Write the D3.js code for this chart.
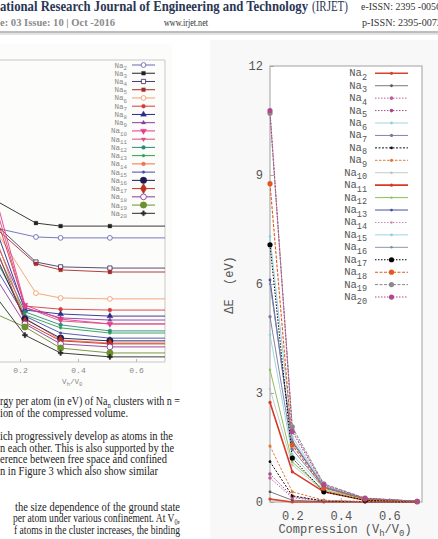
<!DOCTYPE html>
<html><head><meta charset="utf-8">
<script src="https://cdn.jsdelivr.net/npm/d3@7"></script>
<style>html,body{margin:0;padding:0;background:#fff;overflow:hidden}svg{display:block}</style>
</head><body>
<svg id="c" width="438" height="539"></svg>
<script>
// ---------------- data ----------------
const clusterSizes = [2,3,4,5,6,7,8,9,10,11,12,13,14,15,16,17,18,19,20];
// left figure: binding energy per atom (eV) vs Vh/V0
const leftXUpper = [0.1, 0.255, 0.34, 0.51, 0.75];   // Na2..Na6
const leftXLower = [0.1, 0.217, 0.34, 0.51, 0.75];   // Na7..Na20
const bindingEnergy = [
  [0.647, 0.614, 0.611, 0.611, 0.611],
  [0.743, 0.660, 0.650, 0.650, 0.650],
  [0.670, 0.531, 0.515, 0.511, 0.511],
  [0.657, 0.525, 0.505, 0.498, 0.498],
  [0.660, 0.428, 0.412, 0.409, 0.409],
  [0.736, 0.385, 0.375, 0.372, 0.372],
  [0.687, 0.372, 0.359, 0.352, 0.352],
  [0.637, 0.379, 0.346, 0.339, 0.339],
  [0.803, 0.389, 0.342, 0.326, 0.326],
  [0.770, 0.382, 0.336, 0.326, 0.326],
  [0.604, 0.366, 0.323, 0.303, 0.303],
  [0.571, 0.356, 0.313, 0.296, 0.296],
  [0.654, 0.346, 0.273, 0.263, 0.263],
  [0.538, 0.352, 0.296, 0.279, 0.279],
  [0.587, 0.342, 0.279, 0.270, 0.270],
  [0.621, 0.332, 0.270, 0.260, 0.260],
  [0.505, 0.326, 0.260, 0.250, 0.250],
  [0.366, 0.316, 0.246, 0.230, 0.230],
  [0.438, 0.289, 0.230, 0.217, 0.217]
];
const leftTicks = [0.2, 0.4, 0.6];
// right figure: ΔE (eV) vs compression
const compression = [0.108, 0.2, 0.33, 0.5, 0.715];
const deltaE = [
  [0.08, 0.0, 0.0, 0.0, 0.0],
  [0.28, 0.05, 0.01, 0.0, 0.0],
  [0.66, 0.12, 0.02, 0.0, 0.0],
  [0.77, 0.15, 0.03, 0.01, 0.0],
  [4.6, 1.3, 0.38, 0.08, 0.02],
  [5.1, 1.45, 0.4, 0.08, 0.02],
  [1.11, 0.17, 0.03, 0.01, 0.0],
  [1.54, 0.28, 0.05, 0.01, 0.0],
  [3.11, 1.02, 0.3, 0.05, 0.01],
  [2.74, 0.83, 0.28, 0.05, 0.01],
  [3.64, 1.1, 0.33, 0.06, 0.01],
  [6.11, 1.65, 0.42, 0.09, 0.02],
  [10.66, 2.0, 0.48, 0.1, 0.02],
  [7.31, 1.8, 0.44, 0.1, 0.02],
  [6.0, 1.7, 0.42, 0.09, 0.02],
  [7.08, 1.21, 0.28, 0.05, 0.01],
  [8.76, 1.57, 0.38, 0.08, 0.02],
  [10.7, 2.07, 0.5, 0.11, 0.02],
  [10.77, 1.94, 0.47, 0.1, 0.02]
];
const rightYTicks = [0, 3, 6, 9, 12];
const rightXTicks = [0.2, 0.4, 0.6];

// ---------------- styles ----------------
const leftColors = ["#6a6ab8","#222222","#4a3a6a","#a52a2a","#f0a070","#d83a3a","#2a2a8a","#8a3aa0","#e8388a","#d84a8a","#2a8a7a","#2aa050","#f07050","#4a4ab0","#1a1a50","#c03020","#8a3a9a","#6a9030","#2a2a2a"];
const leftSym = ["circleO","square","squareO","square","circleO","circle","triangle","triangleS","triangleD","triangleDS","circle","dot","circle","dot","circleB","diamondB","circleOB","circleB","plus"];
const rightColors = ["#d8432c","#555555","#c0609a","#a34d86","#96d0d8","#76769e","#111111","#e07a3a","#bdbdbd","#d53a26","#8cbf5a","#4c4ca0","#d088b0","#8fd0dc","#7a8aa0","#000000","#e05a20","#8a8a8a","#b04a8c"];
const rightDash = ["", "", "1.5,1.5", "1.5,1.5", "", "", "2,1.5", "2.5,1.5", "", "", "", "", "1.5,1.5", "", "", "1.5,1.5", "3,1.5", "3,1.5", "1.5,1.5"];
const rightWidth = [1.6,0.8,1,1,0.9,0.9,1,1,0.8,1.6,1,1,1,0.9,0.9,1,1.1,1,1.1];
const rightR = [1.6,1.4,1.8,1.8,1.4,1.6,1.4,1.6,1.2,1.6,1.2,1.4,1.2,1.4,1.2,2.6,2.6,2.6,2.6];

const svg = d3.select("#c");
const serif = "'Liberation Serif','Times New Roman',serif";
const mono = "'Liberation Mono','Courier New',monospace";

// backgrounds
svg.append("rect").attr("x",0).attr("y",0).attr("width",438).attr("height",539).attr("fill","#fff");
svg.append("rect").attr("x",210).attr("y",40).attr("width",228).attr("height",499).attr("fill","#f8f8f8");
svg.append("rect").attr("x",0).attr("y",44).attr("width",172).attr("height",348).attr("fill","#fcfcfa");

// ---------------- header ----------------
svg.append("text").attr("x",0).attr("y",10.5).attr("font-family",serif).attr("font-weight","bold")
  .attr("font-size",14).attr("fill","#2b3655").attr("textLength",308).attr("lengthAdjust","spacingAndGlyphs")
  .text("ational Research Journal of Engineering and Technology");
svg.append("text").attr("x",312).attr("y",10.5).attr("font-family",serif).attr("font-size",14)
  .attr("fill","#2b3655").attr("textLength",36).attr("lengthAdjust","spacingAndGlyphs").text("(IRJET)");
svg.append("text").attr("x",361).attr("y",10).attr("font-family",serif).attr("font-size",11)
  .attr("fill","#333").attr("textLength",80).attr("lengthAdjust","spacingAndGlyphs").text("e-ISSN: 2395 -0056");
svg.append("text").attr("x",0).attr("y",26).attr("font-family",serif).attr("font-weight","bold").attr("font-size",11)
  .attr("fill","#8a8a8a").attr("textLength",115).attr("lengthAdjust","spacingAndGlyphs").text("e: 03 Issue: 10 | Oct -2016");
svg.append("text").attr("x",164).attr("y",26).attr("font-family",serif).attr("font-size",11)
  .attr("fill","#333").attr("textLength",44).attr("lengthAdjust","spacingAndGlyphs").text("www.irjet.net");
svg.append("text").attr("x",362).attr("y",26).attr("font-family",serif).attr("font-size",11)
  .attr("fill","#333").attr("textLength",80).attr("lengthAdjust","spacingAndGlyphs").text("p-ISSN: 2395-0072");
svg.append("rect").attr("x",0).attr("y",31).attr("width",438).attr("height",2.5).attr("fill","#bdbdbd");
svg.append("rect").attr("x",0).attr("y",33.5).attr("width",438).attr("height",1.5).attr("fill","#e4e4e4");

// ---------------- left chart ----------------
const L = {left:-38, right:165, top:60, bottom:362};
const xL = d3.scaleLinear().domain([0,0.7]).range([L.left, L.right]);
const yL = d3.scaleLinear().domain([0.2,1.2]).range([L.bottom, L.top]);
svg.append("clipPath").attr("id","clipL").append("rect").attr("x",0).attr("y",L.top).attr("width",L.right).attr("height",L.bottom-L.top);
const gL = svg.append("g");
gL.append("path").attr("d",`M0,${L.top}H${L.right}V${L.bottom}H0`).attr("fill","none").attr("stroke","#c8c8c8").attr("stroke-width",1);
const axL = gL.append("g").attr("transform",`translate(0,${L.bottom})`)
  .call(d3.axisBottom(xL).tickValues(leftTicks).tickFormat(d3.format(".1f")).tickSize(-3).tickPadding(5));
axL.select(".domain").remove();
axL.selectAll("line").attr("stroke","#bbb");
axL.selectAll("text").attr("font-family",mono).attr("font-size",8).attr("fill","#888");
const vl = gL.append("text").attr("x",xL(0.38)).attr("y",384).attr("text-anchor","middle").attr("font-family",mono).attr("font-size",7.5).attr("fill","#888");
vl.append("tspan").text("V");
vl.append("tspan").attr("font-size",5.5).attr("dy",1.5).text("h");
vl.append("tspan").attr("dy",-1.5).text("/V");
vl.append("tspan").attr("font-size",5.5).attr("dy",1.5).text("0");

function sym(type){
  const m = {circleO:[d3.symbolCircle,18,false],square:[d3.symbolSquare,14,true],squareO:[d3.symbolSquare,18,false],
    circle:[d3.symbolCircle,12,true],triangle:[d3.symbolTriangle,16,true],triangleS:[d3.symbolTriangle,8,true],
    triangleD:[d3.symbolTriangle,16,true],triangleDS:[d3.symbolTriangle,8,true],dot:[d3.symbolCircle,6,true],
    circleB:[d3.symbolCircle,34,true],diamondB:[d3.symbolDiamond,34,true],circleOB:[d3.symbolCircle,26,false],plus:[d3.symbolCross,14,true]};
  return m[type];
}
const lineL = d3.line().x(d=>xL(d[0])).y(d=>yL(d[1]));
const plotL = gL.append("g").attr("clip-path","url(#clipL)");
bindingEnergy.forEach((vals,i)=>{
  const xs = i < 5 ? leftXUpper : leftXLower;
  const pts = vals.map((v,j)=>[xs[j],v]);
  plotL.append("path").attr("d",lineL(pts)).attr("fill","none").attr("stroke",leftColors[i]).attr("stroke-width",0.9);
});
function drawSym(g, type, color, x, y){
  const [s,size,fill] = sym(type);
  const rot = type.startsWith("triangleD") ? 180 : 0;
  g.append("path").attr("d",d3.symbol().type(s).size(size)())
    .attr("transform",`translate(${x},${y}) rotate(${rot})`)
    .attr("fill",fill?color:"#fff").attr("stroke",color).attr("stroke-width",fill?0.3:0.9);
}
bindingEnergy.forEach((vals,i)=>{
  const xs = i < 5 ? leftXUpper : leftXLower;
  vals.forEach((v,j)=>drawSym(plotL,leftSym[i],leftColors[i],xL(xs[j]),yL(v)));
});
// left legend
clusterSizes.forEach((n,i)=>{
  const y = 65 + i*8.24;
  const t = gL.append("text").attr("x",127).attr("y",y+2.5).attr("text-anchor","end").attr("font-family",mono).attr("font-size",7.5).attr("fill","#888");
  t.append("tspan").text("Na");
  t.append("tspan").attr("font-size",5.8).attr("dy",2.2).text(n);
  gL.append("line").attr("x1",132).attr("x2",155).attr("y1",y).attr("y2",y).attr("stroke",leftColors[i]).attr("stroke-width",1);
  drawSym(gL,leftSym[i],leftColors[i],143.5,y);
});

// ---------------- caption / body text ----------------
function para(x,y,w,parts){
  const t = svg.append("text").attr("x",x).attr("y",y).attr("font-family",serif).attr("font-size",11.5).attr("fill","#222")
    .attr("textLength",w).attr("lengthAdjust","spacingAndGlyphs");
  parts.forEach(p=>{
    const s = t.append("tspan").text(p.t);
    if (p.sub) s.attr("font-size",7.5).attr("dy",2.5);
    if (p.up) s.attr("dy",-2.5);
  });
}
para(0,405,180,[{t:"rgy per atom (in eV) of Na"},{t:"n",sub:true},{t:" clusters with n =",up:true}]);
para(0,416.5,128,[{t:"ion of the compressed volume."}]);
para(0,440,173,[{t:"ich progressively develop as atoms in the"}]);
para(0,451.5,174,[{t:"n each other. This is also supported by the"}]);
para(0,463,167,[{t:"erence between free space and confined"}]);
para(0,474.5,158,[{t:"n in Figure 3 which also show similar"}]);
para(15,510.5,165,[{t:"the size dependence of the ground state"}]);
para(13,522,167,[{t:"per atom under various confinement. At V"},{t:"0",sub:true},{t:",",up:true}]);
para(14,533.5,166,[{t:"f atoms in the cluster increases, the binding"}]);

// ---------------- right chart ----------------
const R = {left:270, right:422, top:66, bottom:502};
const xR = d3.scaleLinear().domain([0.108,0.735]).range([R.left,R.right]);
const yR = d3.scaleLinear().domain([0,12]).range([R.bottom,R.top]);
const gR = svg.append("g");
gR.append("rect").attr("x",R.left).attr("y",R.top).attr("width",R.right-R.left).attr("height",R.bottom-R.top).attr("fill","#fff");
const ayR = gR.append("g").attr("transform",`translate(${R.left},0)`)
  .call(d3.axisLeft(yR).tickValues(rightYTicks).tickSize(-4).tickPadding(7));
ayR.select(".domain").remove();
ayR.selectAll("line").attr("stroke","#aaa");
ayR.selectAll("text").attr("font-family",mono).attr("font-size",12).attr("fill","#555");
const axR = gR.append("g").attr("transform",`translate(0,${R.bottom})`)
  .call(d3.axisBottom(xR).tickValues(rightXTicks).tickFormat(d3.format(".1f")).tickSize(-4).tickPadding(9));
axR.select(".domain").remove();
axR.selectAll("line").attr("stroke","#aaa");
axR.selectAll("text").attr("font-family",mono).attr("font-size",12).attr("fill","#555");
gR.append("rect").attr("x",R.left).attr("y",R.top).attr("width",R.right-R.left).attr("height",R.bottom-R.top)
  .attr("fill","none").attr("stroke","#a0a0a0").attr("stroke-width",1);
// axis titles
const xt = gR.append("text").attr("x",345).attr("y",533).attr("text-anchor","middle").attr("font-family",mono).attr("font-size",12).attr("fill","#555");
xt.append("tspan").text("Compression (V");
xt.append("tspan").attr("font-size",9).attr("dy",2.5).text("h");
xt.append("tspan").attr("dy",-2.5).text("/V");
xt.append("tspan").attr("font-size",9).attr("dy",2.5).text("0");
xt.append("tspan").attr("dy",-2.5).text(")");
gR.append("text").attr("transform","translate(233,285) rotate(-90)").attr("text-anchor","middle")
  .attr("font-family",mono).attr("font-size",12).attr("fill","#555").attr("xml:space","preserve").text("ΔE  (eV)");

const lineR = d3.line().x(d=>xR(d[0])).y(d=>yR(d[1]));
const plotR = gR.append("g");
deltaE.forEach((vals,i)=>{
  const pts = vals.map((v,j)=>[compression[j],v]);
  plotR.append("path").attr("d",lineR(pts)).attr("fill","none").attr("stroke",rightColors[i])
    .attr("stroke-width",rightWidth[i]).attr("stroke-dasharray",rightDash[i]||null);
});
deltaE.forEach((vals,i)=>{
  vals.forEach((v,j)=>{
    plotR.append("circle").attr("cx",xR(compression[j])).attr("cy",yR(v)).attr("r",rightR[i]).attr("fill",rightColors[i]);
  });
});
// right legend
clusterSizes.forEach((n,i)=>{
  const y = 73.3 + i*12.43;
  const t = gR.append("text").attr("x",367).attr("y",y+3).attr("text-anchor","end").attr("font-family",mono).attr("font-size",10.5).attr("fill","#555");
  t.append("tspan").text("Na");
  t.append("tspan").attr("font-size",8.5).attr("dy",3.5).text(n);
  gR.append("line").attr("x1",375).attr("x2",408).attr("y1",y).attr("y2",y).attr("stroke",rightColors[i])
    .attr("stroke-width",rightWidth[i]).attr("stroke-dasharray",rightDash[i]||null);
  gR.append("circle").attr("cx",391.5).attr("cy",y).attr("r",rightR[i]).attr("fill",rightColors[i]);
});
</script>
</body></html>
